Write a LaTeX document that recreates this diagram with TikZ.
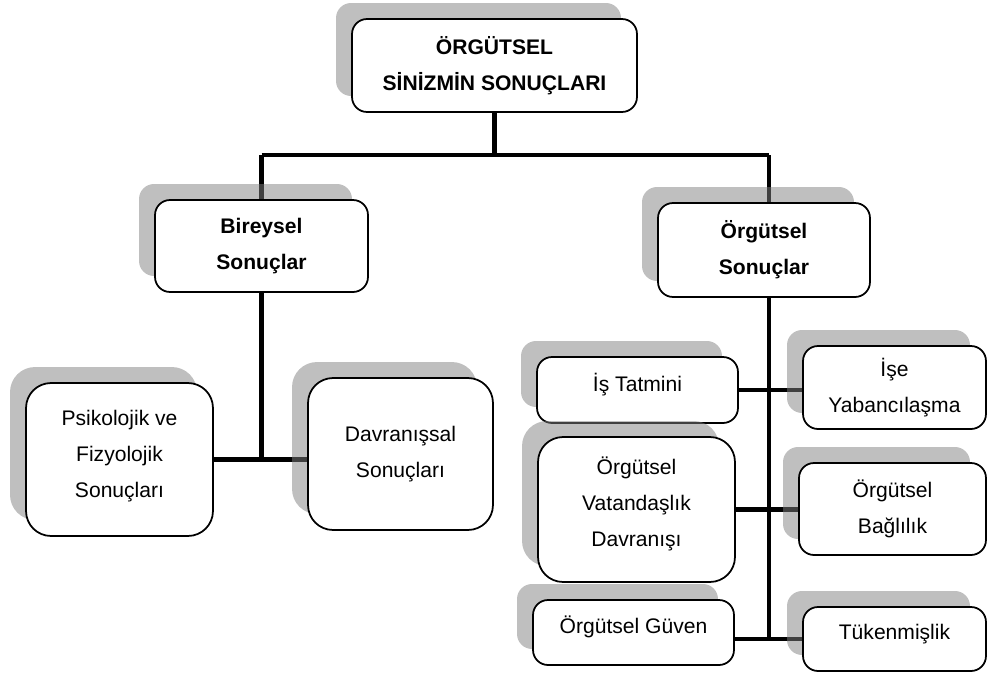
\documentclass[tikz,border=0pt]{standalone}
\usepackage{fontspec}
\setmainfont{Liberation Sans}
\usetikzlibrary{shadows,backgrounds}
\begin{document}
\begin{tikzpicture}[x=0.02cm,y=-0.02cm,
  kutu/.style={draw,line width=1pt,fill=white,rounded corners=0.3cm,align=center,inner sep=0pt,
    font=\fontsize{12}{20.4}\selectfont,
    drop shadow={shadow xshift=-0.32cm,shadow yshift=0.32cm,fill=black!50,opacity=0.5}},
  duz/.style={text depth=0.3cm},
  buyuk/.style={kutu,rounded corners=0.5cm},
  kalin/.style={kutu,font=\fontsize{12}{20.4}\selectfont\bfseries},
  hat/.style={line width=2.7pt}]
\useasboundingbox (0,0) rectangle (988,673);
\node[kalin,minimum width=5.7cm,minimum height=1.86cm] (top) at (494.5,65.5) {ÖRGÜTSEL\\SİNİZMİN SONUÇLARI};
\node[kalin,minimum width=4.26cm,minimum height=1.84cm] (bir) at (261.5,246) {Bireysel\\Sonuçlar};
\node[kalin,minimum width=4.24cm,minimum height=1.88cm] (org) at (764,250) {Örgütsel\\Sonuçlar};
\node[buyuk,text depth=0.22cm,minimum width=3.74cm,minimum height=3.06cm] (psi) at (119.5,459.5) {Psikolojik ve\\Fizyolojik\\Sonuçları};
\node[buyuk,minimum width=3.70cm,minimum height=3.04cm] (dav) at (400.5,454) {Davranışsal\\Sonuçları};
\node[kutu,duz,minimum width=4.02cm,minimum height=1.32cm] (ist) at (637.5,390) {İş Tatmini};
\node[kutu,minimum width=3.66cm,minimum height=1.66cm] (ise) at (894.5,387.5) {İşe\\Yabancılaşma};
\node[buyuk,duz,minimum width=3.94cm,minimum height=2.90cm] (ovd) at (636.5,509.5) {Örgütsel\\Vatandaşlık\\Davranışı};
\node[kutu,minimum width=3.74cm,minimum height=1.84cm] (oba) at (892.5,509) {Örgütsel\\Bağlılık};
\node[kutu,duz,minimum width=4.02cm,minimum height=1.30cm] (ogu) at (633.5,632.5) {Örgütsel Güven};
\node[kutu,duz,minimum width=3.66cm,minimum height=1.28cm] (tuk) at (894.5,639) {Tükenmişlik};
\coordinate (sag) at (769,155);
\begin{scope}[on background layer]
\draw[hat] (top.south) -- (top.south |- sag);
\draw[hat] (bir.north |- sag) -- (sag);
\draw[hat] (bir.north |- sag) -- (bir.north);
\draw[hat] (sag) -- (sag |- org.north);
\draw[hat] (bir.south) -- (bir.south |- psi.east);
\draw[hat] (psi.east) -- (dav.west |- psi.east);
\draw[hat] (org.south -| sag) -- (sag |- tuk.west);
\draw[hat] (ist.east) -- (ise.west |- ist.east);
\draw[hat] (ovd.east) -- (oba.west |- ovd.east);
\draw[hat] (ogu.east |- tuk.west) -- (tuk.west);
\end{scope}
\end{tikzpicture}
\end{document}
